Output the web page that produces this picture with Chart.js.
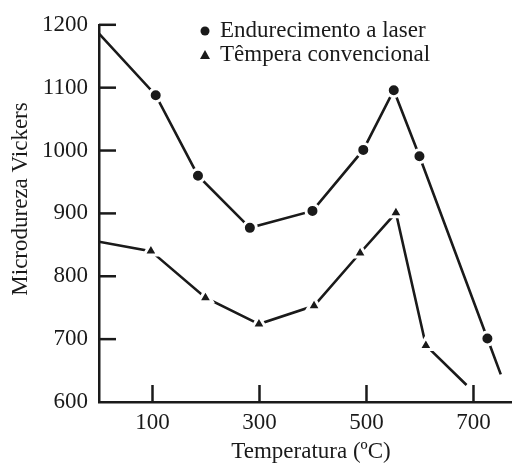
<!DOCTYPE html>
<html>
<head>
<meta charset="utf-8">
<script src="https://cdn.jsdelivr.net/npm/chart.js@4"></script>
<style>
  html, body { margin: 0; padding: 0; background: #fff; }
  #wrap { width: 512px; height: 464px; position: relative; }
</style>
</head>
<body>
<div id="wrap"><canvas id="hv-chart" width="512" height="464"></canvas></div>
<script>
// Microdureza Vickers x temperatura de revenido
const laserTemp = [0, 106, 185, 282, 399, 494, 551, 599, 726, 751];
const laserHv = [1186, 1088, 960, 877, 904, 1001, 1096, 991, 701, 644];
const convTemp = [0, 97, 199, 299, 402, 488, 555, 611, 687];
const convHv = [855, 840, 766, 724, 753, 837, 901, 690, 627];

const xTicks = [100, 300, 500, 700];
const yTicks = [600, 700, 800, 900, 1000, 1100, 1200];

const INK = '#1a1a1a';
const FONT = '"Liberation Serif", "Times New Roman", serif';

function toPoints(xs, ys) {
    return xs.map((x, i) => ({ x: x, y: ys[i] }));
}

// first and last points are just line ends, no marker
function markerRadius(size) {
    return ctx => {
        const n = ctx.dataset.data.length;
        return (ctx.dataIndex === 0 || ctx.dataIndex === n - 1) ? 0 : size;
    };
}

// inward tick marks, axis titles and the legend box
const decorations = {
    id: 'decorations',
    afterDraw(chart) {
        const { ctx, chartArea, scales } = chart;
        ctx.save();
        ctx.strokeStyle = INK;
        ctx.lineWidth = 2.5;
        yTicks.forEach(v => {
            if (v === 600) return;
            const y = scales.y.getPixelForValue(v);
            ctx.beginPath();
            ctx.moveTo(chartArea.left, y);
            ctx.lineTo(chartArea.left + 17, y);
            ctx.stroke();
        });
        xTicks.forEach(v => {
            const x = scales.x.getPixelForValue(v);
            ctx.beginPath();
            ctx.moveTo(x, chartArea.bottom);
            ctx.lineTo(x, chartArea.bottom - 17);
            ctx.stroke();
        });

        ctx.fillStyle = INK;
        ctx.font = '23px ' + FONT;
        ctx.textAlign = 'center';
        ctx.textBaseline = 'alphabetic';
        ctx.fillText('Temperatura (ºC)', 311, 458);

        ctx.save();
        ctx.translate(27, 199);
        ctx.rotate(-Math.PI / 2);
        ctx.fillText('Microdureza Vickers', 0, 0);
        ctx.restore();

        // legend
        ctx.textAlign = 'left';
        chart.data.datasets.forEach((ds, i) => {
            const cy = 31 + i * 24;
            ctx.beginPath();
            if (ds.pointStyle === 'triangle') {
                ctx.moveTo(205, cy - 5);
                ctx.lineTo(210, cy + 4);
                ctx.lineTo(200, cy + 4);
                ctx.closePath();
            } else {
                ctx.arc(205, cy, 4.5, 0, Math.PI * 2);
            }
            ctx.fill();
            ctx.fillText(ds.label, 220, cy + 6);
        });
        ctx.restore();
    }
};

const chart = new Chart(document.getElementById('hv-chart'), {
    type: 'scatter',
    data: {
        datasets: [
            {
                label: 'Endurecimento a laser',
                data: toPoints(laserTemp, laserHv),
                showLine: true,
                borderColor: INK,
                borderWidth: 2.6,
                pointStyle: 'circle',
                pointRadius: markerRadius(6.5),
                pointBackgroundColor: INK,
                pointBorderColor: '#fff',
                pointBorderWidth: 3,
                tension: 0
            },
            {
                label: 'Têmpera convencional',
                data: toPoints(convTemp, convHv),
                showLine: true,
                borderColor: INK,
                borderWidth: 2.6,
                pointStyle: 'triangle',
                pointRadius: markerRadius(8),
                pointBackgroundColor: INK,
                pointBorderColor: '#fff',
                pointBorderWidth: 3,
                tension: 0
            }
        ]
    },
    options: {
        responsive: false,
        animation: false,
        layout: { padding: { top: 22, right: 0, left: 0, bottom: 0 } },
        plugins: {
            legend: { display: false },
            tooltip: { enabled: false }
        },
        scales: {
            x: {
                type: 'linear',
                min: 0,
                max: 772,
                afterBuildTicks: axis => { axis.ticks = xTicks.map(v => ({ value: v })); },
                afterFit: axis => { axis.height = 62; },
                grid: { display: false, drawTicks: false },
                border: { color: INK, width: 2.5 },
                ticks: {
                    color: INK,
                    padding: 7,
                    maxRotation: 0,
                    autoSkip: false,
                    callback: v => String(v),
                    font: { family: FONT, size: 23 }
                }
            },
            y: {
                min: 600,
                max: 1200,
                afterBuildTicks: axis => { axis.ticks = yTicks.map(v => ({ value: v })); },
                afterFit: axis => { axis.width = 99; },
                grid: { display: false, drawTicks: false },
                border: { color: INK, width: 2.5 },
                ticks: {
                    color: INK,
                    padding: 11,
                    autoSkip: false,
                    callback: v => String(v),
                    font: { family: FONT, size: 23 }
                }
            }
        }
    },
    plugins: [decorations]
});
</script>
</body>
</html>
